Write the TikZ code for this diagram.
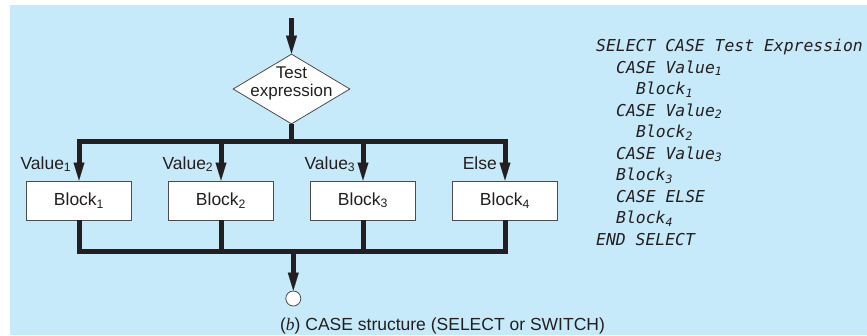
\documentclass[tikz,border=0pt]{standalone}
\usepackage{fontspec}
\setmainfont{Liberation Sans}
\newfontfamily\codefont{DejaVu Sans Mono}
\newfontfamily\capserif{Liberation Serif}
\usetikzlibrary{arrows.meta,shapes.geometric}
\definecolor{bgblue}{RGB}{199,234,251}
\definecolor{ink}{RGB}{35,31,32}
\begin{document}
\begin{tikzpicture}[x=1pt,y=-1pt,
  every node/.append style={text=ink},
  flow/.style={line width=5pt, draw=ink, line join=miter},
  arr/.style={flow, -{Triangle[length=18pt,width=11pt,line width=0.1pt]}},
  arrboth/.style={flow, {Triangle[length=18pt,width=11pt,line width=0.1pt]}-{Triangle[length=18pt,width=11pt,line width=0.1pt]}},
  blockbox/.style={draw=black!70, line width=0.8pt, fill=white, minimum width=105pt, minimum height=39pt, inner sep=0pt, font=\fontsize{17.5}{20}\selectfont},
  decision/.style={diamond, draw=black!70, line width=0.8pt, fill=white, minimum width=117pt, minimum height=70pt, inner sep=0pt},
  vlabel/.style={anchor=base east, inner sep=0pt, font=\fontsize{17.5}{20}\selectfont},
  codeline/.style={anchor=base west, inner sep=0pt, font=\codefont\itshape\fontsize{16.4}{20}\selectfont},
]
\fill[bgblue] (10,5) rectangle (867,335);
\useasboundingbox (0,0) rectangle (867,335);

% decision
\coordinate (start) at (291.5,18);
\node[decision] (test) at (291.5,89) {};
\node[font=\fontsize{17}{17.7}\selectfont, align=center, inner sep=0pt] (testtext) at (291.5,83.5) {Test\\expression};

% blocks
\node[blockbox] (b1) at (79,200.4) {Block\textsubscript{1}};
\node[blockbox] (b2) at (221,200.4) {Block\textsubscript{2}};
\node[blockbox] (b3) at (363,200.4) {Block\textsubscript{3}};
\node[blockbox] (b4) at (505,200.4) {Block\textsubscript{4}};

\coordinate (jt) at (291.5,141.7);
\coordinate (jb) at (293.3,251.7);
\node[circle, draw=black!70, fill=white, line width=0.8pt, minimum size=15pt, inner sep=0pt] (exit) at (293.3,298.5) {};

% connectors
\draw[arr] (start) -- (test.north);
\draw[flow] (test.south) -- (jt);
\draw[arrboth] (b1.north) |- (jt) -| (b4.north);
\draw[arr] (b2.north |- jt) -- (b2.north);
\draw[arr] (b3.north |- jt) -- (b3.north);
\draw[flow] (b1.south) |- (jb) -| (b4.south);
\draw[flow] (b2.south) -- (b2.south |- jb);
\draw[flow] (b3.south) -- (b3.south |- jb);
\draw[arr] (jb) -- (exit.north);

% labels
\node[vlabel] (v1) at (71.5,169) {Value\textsubscript{1}};
\node[vlabel] (v2) at (213.5,169) {Value\textsubscript{2}};
\node[vlabel] (v3) at (355.5,169) {Value\textsubscript{3}};
\node[vlabel] (v4) at (497,169) {Else};

% code
\node[codeline] (c0) at (596,51.7) {SELECT CASE Test Expression};
\node[codeline] (c1) at (616,73.2) {CASE Value\textsubscript{1}};
\node[codeline] (c2) at (636,94.7) {Block\textsubscript{1}};
\node[codeline] (c3) at (616,116.2) {CASE Value\textsubscript{2}};
\node[codeline] (c4) at (636,137.7) {Block\textsubscript{2}};
\node[codeline] (c5) at (616,159.2) {CASE Value\textsubscript{3}};
\node[codeline] (c6) at (616,180.7) {Block\textsubscript{3}};
\node[codeline] (c7) at (616,202.2) {CASE ELSE};
\node[codeline] (c8) at (616,223.7) {Block\textsubscript{4}};
\node[codeline] (c9) at (596,245.2) {END SELECT};

% caption
\node[anchor=base, inner sep=0pt, font=\fontsize{17.5}{20}\selectfont] (cap) at (442.5,330) {({\capserif\itshape b}) CASE structure (SELECT or SWITCH)};
\end{tikzpicture}
\end{document}
